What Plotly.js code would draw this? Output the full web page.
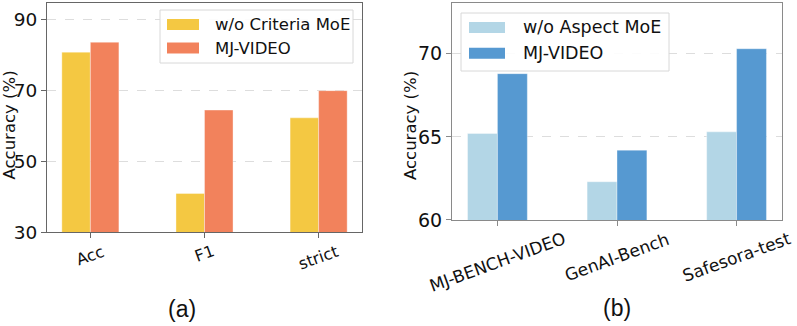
<!DOCTYPE html>
<html>
<head>
<meta charset="utf-8">
<script src="https://cdn.plot.ly/plotly-3.0.1.min.js"></script>
<style>
  html, body { margin: 0; padding: 0; background: #fff; }
  #chart { width: 797px; height: 326px; }
</style>
</head>
<body>
<div id="chart"></div>
<script>
// (a) criteria MoE ablation
const metricsA = ["Acc", "F1", "strict"];
const noCriteriaMoe = [80.9, 40.9, 62.3];
const mjVideoA = [83.7, 64.5, 70.0];
const yTicksA = [30, 50, 70, 90];

// (b) aspect MoE ablation
const benchesB = ["MJ-BENCH-VIDEO", "GenAI-Bench", "Safesora-test"];
const noAspectMoe = [65.2, 62.3, 65.3];
const mjVideoB = [68.8, 64.2, 70.3];
const yTicksB = [60, 65, 70];

const font = "DejaVu Sans, sans-serif";
const W = 797, H = 326;
const edge = { color: "rgba(255,255,255,0.45)", width: 0.8 };

let traces = [
  {
    type: "bar", x: metricsA, y: noCriteriaMoe, name: "w/o Criteria MoE",
    xaxis: "x", yaxis: "y", marker: { color: "#F4C842", line: edge },
  },
  {
    type: "bar", x: metricsA, y: mjVideoA, name: "MJ-VIDEO",
    xaxis: "x", yaxis: "y", marker: { color: "#F2825C", line: edge },
  },
  {
    type: "bar", x: benchesB, y: noAspectMoe, name: "w/o Aspect MoE",
    xaxis: "x2", yaxis: "y2", marker: { color: "#B3D6E6", line: edge },
  },
  {
    type: "bar", x: benchesB, y: mjVideoB, name: "MJ-VIDEO",
    xaxis: "x2", yaxis: "y2", marker: { color: "#5699D1", line: edge },
  },
];

function xAxis(domain, anchor, frame) {
  return {
    domain: domain, anchor: anchor, type: "category", range: [-0.38, 2.38],
    showline: true, mirror: true, linecolor: frame, linewidth: 1,
    ticks: "outside", ticklen: 5, tickcolor: frame,
    showticklabels: false, showgrid: false, zeroline: false, fixedrange: true,
  };
}

function yAxis(domain, anchor, range, ticks, size, frame) {
  return {
    domain: domain, anchor: anchor, range: range,
    tickmode: "array", tickvals: ticks, ticktext: ticks.map(String),
    showline: true, mirror: true, linecolor: frame, linewidth: 1,
    ticks: "outside", ticklen: 5, tickcolor: frame,
    tickfont: { family: font, size: size, color: "#111" },
    showgrid: true, gridcolor: "#d4d4d4", griddash: "dash", gridwidth: 0.8,
    zeroline: false,
  };
}

let annotations = [];
let shapes = [];

function label(x, y, text, size, extra) {
  return Object.assign({
    x: x / W, xref: "paper", y: 1 - y / H, yref: "paper",
    xanchor: "left", yanchor: "middle", showarrow: false,
    text: text, font: { family: font, size: size, color: "#111" },
  }, extra || {});
}

// category labels under each axis, rotated like the original
metricsA.forEach(function (m) {
  annotations.push({
    x: m, xref: "x", y: 0.2883, yref: "paper", yshift: -7,
    xanchor: "center", yanchor: "top", textangle: -20, showarrow: false,
    text: m, font: { family: font, size: 16, color: "#111" },
  });
});
benchesB.forEach(function (b) {
  annotations.push({
    x: b, xref: "x2", y: 0.3252, yref: "paper", yshift: -6,
    xanchor: "center", yanchor: "top", textangle: -20, showarrow: false,
    text: b, font: { family: font, size: 17, color: "#111" },
  });
});

// y titles
annotations.push(label(8.5, 125, "Accuracy (%)", 16.5, { xanchor: "center", textangle: -90 }));
annotations.push(label(410, 126, "Accuracy (%)", 16.5, { xanchor: "center", textangle: -90 }));

// panel captions
const capFont = { family: "Liberation Sans, Arial, sans-serif", size: 23, color: "#111" };
annotations.push(label(182, 309, "(a)", 23, { xanchor: "center", font: capFont }));
annotations.push(label(617, 308, "(b)", 23, { xanchor: "center", font: capFont }));

// legends (matplotlib style box with wide swatches)
function legendBox(x0, y0, x1, y1, rows, sw, textX, size) {
  shapes.push({
    type: "rect", xref: "paper", yref: "paper", layer: "above",
    x0: x0 / W, x1: x1 / W, y0: 1 - y1 / H, y1: 1 - y0 / H,
    fillcolor: "rgba(255,255,255,0.9)", line: { color: "#d8d8d8", width: 1 },
  });
  rows.forEach(function (r) {
    shapes.push({
      type: "rect", xref: "paper", yref: "paper", layer: "above",
      x0: sw[0] / W, x1: sw[1] / W, y0: 1 - (r.y + 5.5) / H, y1: 1 - (r.y - 5.5) / H,
      fillcolor: r.trace.marker.color, line: { width: 0 },
    });
    annotations.push(label(textX, r.y, r.trace.name, size));
  });
}
legendBox(160, 10, 353, 63, [{ y: 24.5, trace: traces[0] }, { y: 48, trace: traces[1] }],
  [167, 199], 213, 16.5);
legendBox(461, 13, 669, 71, [{ y: 27.5, trace: traces[2] }, { y: 53.3, trace: traces[3] }],
  [469, 505], 521, 17.5);

let layout = {
  width: W, height: H,
  margin: { l: 0, r: 0, t: 0, b: 0 },
  paper_bgcolor: "#fff", plot_bgcolor: "#fff",
  barmode: "group", bargap: 0.5, bargroupgap: 0,
  xaxis: xAxis([47 / W, 362 / W], "y", "#666"),
  yaxis: yAxis([0.2883, 0.9908], "x", [30, 94.8], yTicksA, 18.5, "#666"),
  xaxis2: xAxis([452 / W, 782 / W], "y2", "#8a8a8a"),
  yaxis2: yAxis([0.3252, 0.9908], "x2", [60, 73.05], yTicksB, 19, "#8a8a8a"),
  annotations: annotations,
  shapes: shapes,
  showlegend: false,
};

Plotly.newPlot("chart", traces, layout, { staticPlot: true });
</script>
</body>
</html>
